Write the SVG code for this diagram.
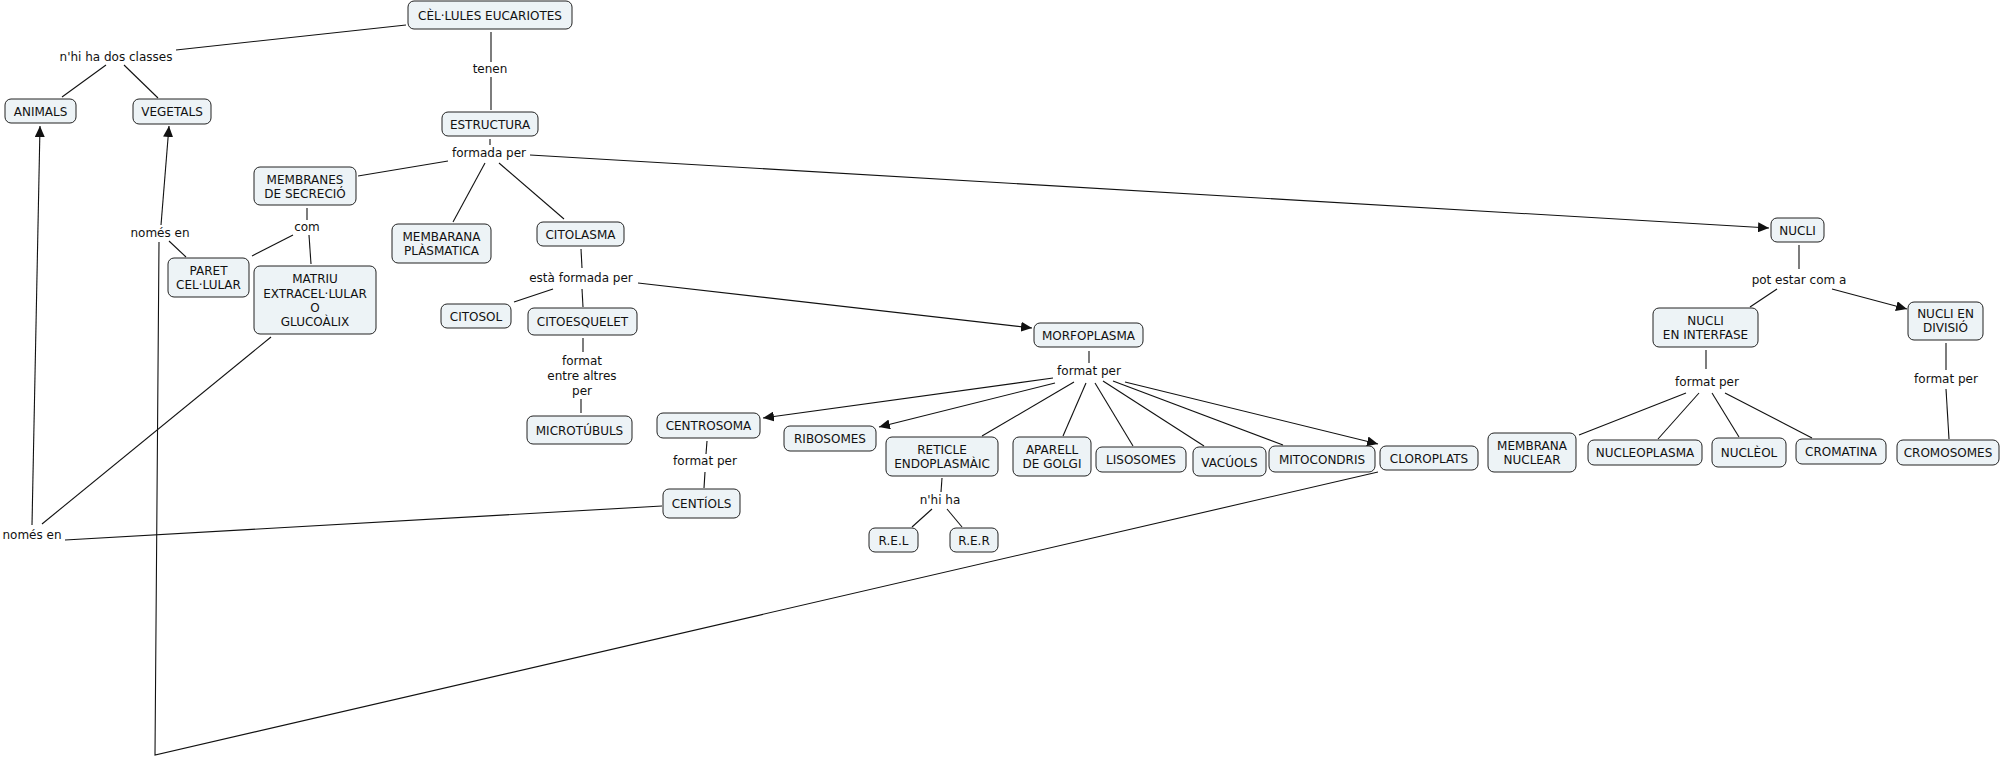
<svg xmlns="http://www.w3.org/2000/svg" width="2004" height="758" viewBox="0 0 2004 758">
<style>
.n rect{fill:#edf3f6;stroke:#222;stroke-width:1}
text{font-family:"DejaVu Sans",Verdana,sans-serif;font-size:12px;fill:#111;text-anchor:middle}
.c line,.c polyline{stroke:#111;stroke-width:1.1;fill:none}
.a{marker-end:url(#ah)}
</style>
<defs>
<marker id="ah" markerUnits="userSpaceOnUse" markerWidth="11" markerHeight="10" refX="11" refY="5" orient="auto"><path d="M0,0 L11,5 L0,10 z" fill="#111"/></marker>
</defs>
<rect width="2004" height="758" fill="#fff"/>
<g class="c">
<line x1="406" y1="25" x2="176" y2="50"/>
<line x1="106" y1="65" x2="62" y2="97"/>
<line x1="124" y1="65" x2="158" y2="98"/>
<line x1="491" y1="32" x2="491" y2="62"/>
<line x1="491" y1="77" x2="491" y2="110"/>
<line x1="490" y1="139" x2="490" y2="145"/>
<line x1="448" y1="161" x2="358" y2="176"/>
<line x1="485" y1="163" x2="453" y2="222"/>
<line x1="499" y1="163" x2="564" y2="219"/>
<line class="a" x1="530" y1="155" x2="1769" y2="228"/>
<line x1="307" y1="208" x2="307" y2="220"/>
<line x1="293" y1="235" x2="252" y2="256"/>
<line x1="309" y1="235" x2="311" y2="264"/>
<polyline points="1378,472 155,755 159,242"/>
<line class="a" x1="161" y1="225" x2="169" y2="126"/>
<line x1="169" y1="241" x2="186" y2="257"/>
<line x1="271" y1="337" x2="42" y2="524"/>
<line class="a" x1="32" y1="525" x2="40" y2="126"/>
<line x1="65" y1="540" x2="662" y2="506"/>
<line x1="581" y1="249" x2="582" y2="268"/>
<line x1="553" y1="289" x2="514" y2="302"/>
<line x1="582" y1="289" x2="583" y2="307"/>
<line class="a" x1="638" y1="283" x2="1032" y2="328"/>
<line x1="583" y1="338" x2="583" y2="352"/>
<line x1="581" y1="399" x2="581" y2="413"/>
<line x1="1089" y1="351" x2="1089" y2="363"/>
<line class="a" x1="1053" y1="378" x2="763" y2="418"/>
<line class="a" x1="1055" y1="383" x2="879" y2="427"/>
<line x1="1074" y1="382" x2="982" y2="436"/>
<line x1="1086" y1="383" x2="1063" y2="436"/>
<line x1="1095" y1="383" x2="1133" y2="446"/>
<line x1="1103" y1="381" x2="1204" y2="446"/>
<line x1="1113" y1="381" x2="1283" y2="445"/>
<line class="a" x1="1125" y1="382" x2="1378" y2="444"/>
<line x1="707" y1="441" x2="706" y2="454"/>
<line x1="705" y1="472" x2="704" y2="488"/>
<line x1="942" y1="478" x2="941" y2="492"/>
<line x1="932" y1="509" x2="912" y2="527"/>
<line x1="947" y1="509" x2="962" y2="527"/>
<line x1="1799" y1="245" x2="1799" y2="269"/>
<line x1="1777" y1="289" x2="1750" y2="307"/>
<line class="a" x1="1832" y1="289" x2="1907" y2="309"/>
<line x1="1706" y1="350" x2="1706" y2="369"/>
<line x1="1686" y1="393" x2="1579" y2="435"/>
<line x1="1699" y1="393" x2="1658" y2="439"/>
<line x1="1712" y1="393" x2="1739" y2="437"/>
<line x1="1725" y1="393" x2="1812" y2="438"/>
<line x1="1946" y1="343" x2="1946" y2="370"/>
<line x1="1946" y1="389" x2="1949" y2="439"/>
</g>
<g id="labels">
<text x="116" y="61">n'hi ha dos classes</text>
<text x="490" y="73">tenen</text>
<text x="489" y="157">formada per</text>
<text x="307" y="231">com</text>
<text x="160" y="237">només en</text>
<text x="581" y="282">està formada per</text>
<text x="582" y="365">format</text>
<text x="582" y="380">entre altres</text>
<text x="582" y="395">per</text>
<text x="1089" y="375">format per</text>
<text x="705" y="465">format per</text>
<text x="940" y="504">n'hi ha</text>
<text x="1799" y="284">pot estar com a</text>
<text x="1707" y="386">format per</text>
<text x="1946" y="383">format per</text>
<text x="32" y="539">només en</text>
</g>
<g id="cel" class="n"><rect x="408" y="1" width="164" height="28" rx="6"/><text x="490" y="19.5">CÈL·LULES EUCARIOTES</text></g>
<g id="animals" class="n"><rect x="5" y="99" width="71" height="24" rx="6"/><text x="40.5" y="115.5">ANIMALS</text></g>
<g id="vegetals" class="n"><rect x="133" y="99" width="78" height="25" rx="6"/><text x="172" y="116">VEGETALS</text></g>
<g id="estructura" class="n"><rect x="442" y="112" width="96" height="24" rx="6"/><text x="490" y="128.5">ESTRUCTURA</text></g>
<g id="membranes" class="n"><rect x="254" y="167" width="102" height="38" rx="6"/><text x="305" y="183.5">MEMBRANES</text><text x="305" y="197.5">DE SECRECIÓ</text></g>
<g id="membarana" class="n"><rect x="392" y="224" width="99" height="39" rx="6"/><text x="441.5" y="241">MEMBARANA</text><text x="441.5" y="255">PLÀSMATICA</text></g>
<g id="citolasma" class="n"><rect x="537" y="222" width="87" height="24" rx="6"/><text x="580.5" y="238.5">CITOLASMA</text></g>
<g id="paret" class="n"><rect x="168" y="258" width="81" height="39" rx="6"/><text x="208.5" y="275">PARET</text><text x="208.5" y="289">CEL·LULAR</text></g>
<g id="matriu" class="n"><rect x="254" y="266" width="122" height="68" rx="6"/><text x="315" y="283">MATRIU</text><text x="315" y="297.5">EXTRACEL·LULAR</text><text x="315" y="311.5">O</text><text x="315" y="326">GLUCOÀLIX</text></g>
<g id="citosol" class="n"><rect x="441" y="304" width="70" height="24" rx="6"/><text x="476" y="320.5">CITOSOL</text></g>
<g id="citoesquelet" class="n"><rect x="528" y="308" width="109" height="27" rx="6"/><text x="582.5" y="326">CITOESQUELET</text></g>
<g id="microtubuls" class="n"><rect x="527" y="416" width="105" height="28" rx="6"/><text x="579.5" y="434.5">MICROTÚBULS</text></g>
<g id="morfoplasma" class="n"><rect x="1034" y="323" width="109" height="24" rx="6"/><text x="1088.5" y="339.5">MORFOPLASMA</text></g>
<g id="centrosoma" class="n"><rect x="657" y="413" width="103" height="25" rx="6"/><text x="708.5" y="430">CENTROSOMA</text></g>
<g id="centiols" class="n"><rect x="663" y="489" width="77" height="29" rx="6"/><text x="701.5" y="508">CENTÍOLS</text></g>
<g id="ribosomes" class="n"><rect x="784" y="426" width="92" height="25" rx="6"/><text x="830" y="443">RIBOSOMES</text></g>
<g id="reticle" class="n"><rect x="886" y="437" width="112" height="39" rx="6"/><text x="942" y="453.5">RETICLE</text><text x="942" y="467.5">ENDOPLASMÀIC</text></g>
<g id="aparell" class="n"><rect x="1013" y="437" width="78" height="39" rx="6"/><text x="1052" y="453.5">APARELL</text><text x="1052" y="467.5">DE GOLGI</text></g>
<g id="lisosomes" class="n"><rect x="1096" y="447" width="90" height="25" rx="6"/><text x="1141" y="464">LISOSOMES</text></g>
<g id="vacuols" class="n"><rect x="1193" y="447" width="73" height="29" rx="6"/><text x="1229.5" y="466.5">VACÚOLS</text></g>
<g id="mitocondris" class="n"><rect x="1269" y="446" width="106" height="26" rx="6"/><text x="1322" y="463.5">MITOCONDRIS</text></g>
<g id="cloroplats" class="n"><rect x="1380" y="446" width="98" height="24" rx="6"/><text x="1429" y="462.5">CLOROPLATS</text></g>
<g id="rel" class="n"><rect x="869" y="528" width="49" height="24" rx="6"/><text x="893.5" y="544.5">R.E.L</text></g>
<g id="rer" class="n"><rect x="950" y="528" width="48" height="24" rx="6"/><text x="974" y="544.5">R.E.R</text></g>
<g id="nucli" class="n"><rect x="1771" y="218" width="53" height="24" rx="6"/><text x="1797.5" y="234.5">NUCLI</text></g>
<g id="interfase" class="n"><rect x="1653" y="308" width="105" height="39" rx="6"/><text x="1705.5" y="324.5">NUCLI</text><text x="1705.5" y="338.5">EN INTERFASE</text></g>
<g id="divisio" class="n"><rect x="1908" y="302" width="75" height="38" rx="6"/><text x="1945.5" y="318">NUCLI EN</text><text x="1945.5" y="332">DIVISIÓ</text></g>
<g id="membrana" class="n"><rect x="1488" y="433" width="88" height="39" rx="6"/><text x="1532" y="449.5">MEMBRANA</text><text x="1532" y="463.5">NUCLEAR</text></g>
<g id="nucleoplasma" class="n"><rect x="1588" y="440" width="114" height="25" rx="6"/><text x="1645" y="457">NUCLEOPLASMA</text></g>
<g id="nucleol" class="n"><rect x="1712" y="438" width="74" height="29" rx="6"/><text x="1749" y="457">NUCLÈOL</text></g>
<g id="cromatina" class="n"><rect x="1796" y="439" width="90" height="25" rx="6"/><text x="1841" y="456">CROMATINA</text></g>
<g id="cromosomes" class="n"><rect x="1897" y="440" width="102" height="25" rx="6"/><text x="1948" y="457">CROMOSOMES</text></g>
</svg>
